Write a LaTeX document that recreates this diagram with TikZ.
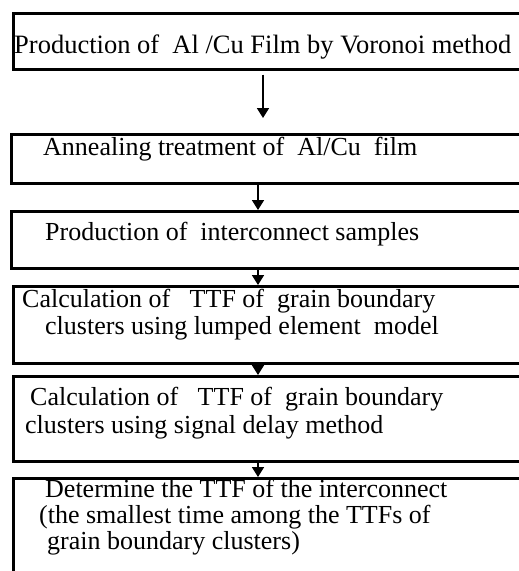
\documentclass[tikz,border=0pt]{standalone}
\usepackage{fontspec}
\setmainfont{Liberation Serif}
\usetikzlibrary{arrows.meta,positioning}

\tikzset{
  stepbox/.style={draw, line width=2.5pt, rectangle, anchor=north west,
    minimum width=540pt, inner sep=0pt},
  steptext/.style={anchor=base west, inner sep=0pt, align=left,
    font=\fontsize{26}{27}\selectfont},
  flow/.style={line width=1.8pt, -{Triangle[length=10pt,width=12pt]}}
}

\begin{document}
\begin{tikzpicture}[x=1pt,y=-1pt]
\useasboundingbox (0,0) rectangle (519,571);
\clip (0,0) rectangle (519,571);
% the steps (cut off at the right and at the bottom)
\node[stepbox, minimum height=56pt] (film) at (12,12) {};
\node[stepbox, minimum height=49pt] (anneal) at (10,133) {};
\node[stepbox, minimum height=57pt] (samples) at (10,210) {};
\node[stepbox, minimum height=77pt] (lumped) at (12,285) {};
\node[stepbox, minimum height=85pt] (delay) at (12,375) {};
\node[stepbox, minimum height=140pt] (ttf) at (12,477) {};

% texts (base = baseline of the last line)
\node[steptext, font=\fontsize{26.5}{27}\selectfont] (filmtext)
  at ([shift={(2,41)}]film.north west)
  {Production of~ Al /Cu Film by Voronoi method};
\node[steptext] (annealtext) at ([shift={(33,22)}]anneal.north west)
  {Annealing treatment of~ Al/Cu~ film};
\node[steptext] (samplestext) at ([shift={(35,30)}]samples.north west)
  {Production of~ interconnect samples};
\node[steptext] (lumpedtext) at ([shift={(10,49)}]lumped.north west)
  {Calculation of~~ TTF of~ grain boundary\\
   \hspace*{23pt}clusters using lumped element~ model};
\node[steptext, font=\fontsize{26}{28}\selectfont] (delaytext)
  at ([shift={(13,58)}]delay.north west)
  {\hspace*{5pt}Calculation of~~ TTF of~ grain boundary\\
   clusters using signal delay method};
\node[steptext, font=\fontsize{26}{26}\selectfont] (ttftext)
  at ([shift={(27,72)}]ttf.north west)
  {\hspace*{6pt}Determine the TTF of the interconnect\\
   (the smallest time among the TTFs of\\
   \hspace*{8pt}grain boundary clusters)};

% arrows
\draw[flow] ([shift={(251,4)}]film.south west) -- ([shift={(253,-15)}]anneal.north west);
\draw[flow] ([xshift=248pt]anneal.south west) -- ([xshift=248pt]samples.north west);
\draw[flow] ([xshift=248pt]samples.south west) -- ([xshift=246pt]lumped.north west);
\draw[flow] ([xshift=246pt]lumped.south west) -- ([xshift=246pt]delay.north west);
\draw[flow] ([xshift=246pt]delay.south west) -- ([xshift=246pt]ttf.north west);
\end{tikzpicture}
\end{document}
